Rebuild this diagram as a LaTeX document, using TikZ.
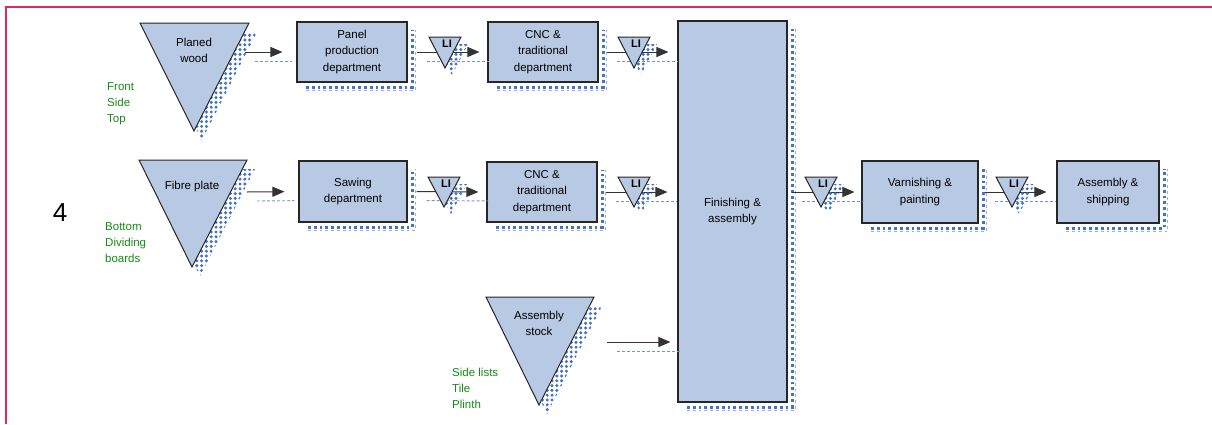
\documentclass[tikz,border=0pt]{standalone}
\usepackage{fontspec}
\setmainfont{Liberation Sans}
\usetikzlibrary{arrows.meta,patterns.meta}
\definecolor{boxfill}{RGB}{184,201,227}
\definecolor{shblue}{RGB}{68,114,196}
\definecolor{framecol}{RGB}{222,40,100}
\definecolor{lblgreen}{RGB}{20,140,20}
\newcommand\pbox[6]{%
  \draw[shadline] (#2+9,#5+5) -- (#4+5,#5+5) -- (#4+5,#3+8);
  \draw[shadline2] (#2+9,#5+8.5) -- (#4+8.5,#5+8.5) -- (#4+8.5,#3+8);
  \node[proc, minimum width=#4-#2, minimum height=#5-#3] (#1) at ({(#2+#4)/2},{(#3+#5)/2}) {#6};}
\newcommand\ptri[8]{%
  \fill[shad] (#2+8,#4+9) -- (#3+8,#4+9) -- (#5+8,#6+9) -- cycle;
  \draw[tri] (#2,#4) -- (#3,#4) -- (#5,#6) -- cycle;
  \node[txt] (#1) at (#5,#8) {#7};}
\newcommand\stri[4]{% name, xcenter, ytop, apex y
  \fill[shad] (#2-16+7,#3+7) -- (#2+16+7,#3+7) -- (#2+7,#4+7) -- cycle;
  \draw[tri] (#2-16,#3) -- (#2+16,#3) -- (#2,#4) -- cycle;
  \node[font=\bfseries\fontsize{11}{12}\selectfont, inner sep=0] (#1) at (#2+2,#3+7) {LI};}
\begin{document}
\begin{tikzpicture}[x=1pt,y=-1pt,
  proc/.style={draw=black!85, line width=1.1pt, fill=boxfill, align=center, inner sep=0,
    font=\fontsize{11.5}{16.5}\selectfont},
  txt/.style={align=center, inner sep=0, font=\fontsize{11.5}{16}\selectfont},
  tri/.style={draw=black!85, line width=1pt, fill=boxfill, line join=miter},
  shad/.style={pattern={Dots[distance=4.8pt, radius=1.7pt]}, pattern color=shblue},
  shadline/.style={draw=shblue, line width=3pt, dash pattern=on 2.8pt off 3pt},
  shadline2/.style={draw=shblue!55, line width=1.6pt, dash pattern=on 2.8pt off 3pt},
  lbl/.style={align=left, inner sep=0, text=lblgreen, anchor=west, font=\fontsize{11.5}{16}\selectfont},
  arr/.style={draw=black!80, line width=1pt, -{Triangle[length=12pt,width=10pt]},
    preaction={draw=shblue!75, -, dash pattern=on 3pt off 2pt, line width=0.9pt, transform canvas={shift={(10pt,-9pt)}}}},
]
\useasboundingbox (0,0) rectangle (1212,424);
\draw[framecol, line width=2pt] (5.5,424) -- (5.5,7) -- (1212,7);

% big label
\node[inner sep=0, font=\fontsize{26}{26}\selectfont] (four) at (60,213) {4};

% row 1
\ptri{t1}{140}{249}{23}{194}{131}{Planed\\wood}{50}
\coordinate (t1out) at (245,52);
\pbox{b1}{297}{22}{407}{82}{Panel\\production\\department}
\pbox{c1}{488}{22}{598}{82}{CNC \&\\traditional\\department}

% row 2
\ptri{t2}{139}{247}{160}{192}{267}{Fibre plate}{187}
\coordinate (t2out) at (247,192);
\pbox{b2}{299}{161}{407}{222}{Sawing\\department}
\pbox{c2}{487}{162}{597}{222}{CNC \&\\traditional\\department}

% row 3
\ptri{t3}{486}{594}{297}{539}{405}{Assembly\\stock}{323}
\coordinate (t3out) at (607,342);

% finishing etc.
\pbox{fin}{678}{21}{787}{402}{Finishing \&\\assembly}
\pbox{var}{862}{161}{978}{223}{Varnishing \&\\painting}
\pbox{ship}{1057}{161}{1159}{223}{Assembly \&\\shipping}

% connectors
\draw[arr, shorten >=14pt] (t1out) -- (b1.west);
\draw[arr, shorten <=9pt, shorten >=8pt] (b1.east) -- (c1.west);
\draw[arr, shorten <=8pt, shorten >=9pt] (c1.east) -- (c1.east -| fin.west);
\draw[arr, shorten >=14pt] (t2out) -- (b2.west);
\draw[arr, shorten <=9pt, shorten >=8pt] (b2.east) -- (c2.west);
\draw[arr, shorten <=8pt, shorten >=10pt] (c2.east) -- (c2.east -| fin.west);
\draw[arr, shorten >=7pt] (t3out) -- (t3out -| fin.west);
\draw[arr, shorten <=4pt, shorten >=7pt] (fin.east |- var.west) -- (var.west);
\draw[arr, shorten <=6pt, shorten >=10pt] (var.east) -- (ship.west);

% inventory triangles
\stri{i1}{445}{37}{68}
\stri{i2}{634}{37}{68}
\stri{i3}{444}{177}{207}
\stri{i4}{634}{177}{207}
\stri{i5}{821}{177}{207}
\stri{i6}{1012}{177}{207}

% green labels
\node[lbl] (l1) at (107,104) {Front\\Side\\Top};
\node[lbl] (l2) at (105,243) {Bottom\\Dividing\\boards};
\node[lbl] (l3) at (452,388) {Side lists\\Tile\\Plinth};
\end{tikzpicture}
\end{document}
